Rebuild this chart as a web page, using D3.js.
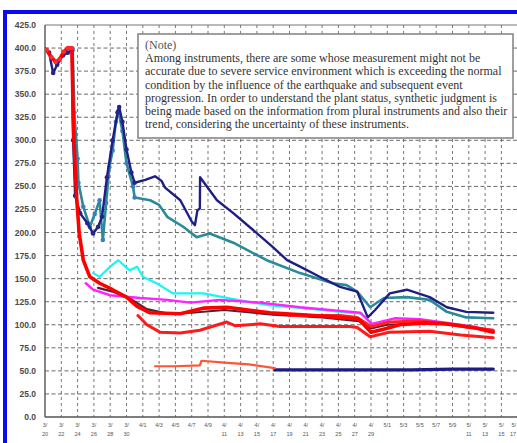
<!DOCTYPE html>
<html><head><meta charset="utf-8">
<script src="https://cdn.jsdelivr.net/npm/d3@7"></script>
<style>html,body{margin:0;padding:0;background:#fff;overflow:hidden}</style>
</head><body>
<svg id="c" width="517" height="443"></svg>
<script>
// ---- DATA (x = days since 3/20, y = value) ----
const tickLabels = ["3/20","3/22","3/24","3/26","3/28","3/30","4/1","4/3","4/5","4/7","4/9","4/11","4/13","4/15","4/17","4/19","4/21","4/23","4/25","4/27","4/29","5/1","5/3","5/5","5/7","5/9","5/11","5/13","5/15","5/17"];
const yTicks = [0,25,50,75,100,125,150,175,200,225,250,275,300,325,350,375,400,425];
const noteLines = [
  "(Note)",
  "Among instruments, there are some whose measurement might not be",
  "accurate due to severe service environment which is exceeding the normal",
  "condition by the influence of the earthquake and subsequent event",
  "progression. In order to understand the plant status, synthetic judgment is",
  "being made based on the information from plural instruments and also their",
  "trend, considering the uncertainty of these instruments."
];
const redA = [[0.2,398],[0.8,390],[1.3,385],[1.8,388],[2.3,396],[2.8,400],[3.3,400],[3.45,330],[3.55,300],[3.9,235],[4.2,199],[4.7,170],[5.5,152],[6.7,145],[8.3,138],[10.0,130],[11.3,120],[12.9,113],[16.6,112],[19.4,118],[22.3,119],[27.6,113],[33,110],[37.4,107],[38.5,106],[40.0,92],[41.9,96],[43.5,100],[46.4,102],[49.2,101],[52.6,97],[55.0,92]];
const redMid = [[30,110],[36.2,110],[38.3,108],[40.0,98],[42.3,103],[46,104],[49.2,101],[52,97],[55.0,94]];
const redB = [[11.4,110],[12.5,100],[14.1,92],[16.6,91],[19.0,94],[22.3,103],[23.3,99],[26.4,101],[28.8,98],[37.4,98],[38.3,97],[39.9,87],[42.3,92],[47.2,93],[51,89],[55.0,86]];
const maroon = [[6.5,140],[8.3,136],[10.5,128],[12.5,117],[15,112],[18,113],[22,116],[28,111],[34,108],[38.5,104],[40,96],[42,100],[46,101]];
const magenta = [[5.0,145],[5.9,138],[8.0,132],[11.7,129],[15.0,127],[17.8,124],[21.5,127],[26.4,124],[31.3,119],[36.2,115],[38.7,113],[40.1,101],[42.9,107],[46,106],[50.9,100],[55.0,94]];
const cyan = [[5.9,156],[6.7,152],[8.0,163],[9.0,170],[9.6,165],[10.4,159],[11.3,163],[12.0,152],[13.7,145],[15.7,134],[19.4,134],[23.6,127],[27.6,121],[31.7,118],[36.2,114],[38.9,112]];
const navyUpper = [[0.0,398],[0.5,395],[1.0,373],[1.5,382],[2.2,392],[2.8,395],[3.3,398],[3.45,300],[3.7,240],[4.3,221],[5.2,210],[5.9,199],[6.5,206],[7.0,217],[7.6,260],[8.3,300],[8.9,330],[9.1,336],[9.5,320],[10.0,290],[10.6,265],[11.0,254],[12.3,257],[13.5,261],[14.3,256],[14.7,249],[16.6,235],[18.0,212],[18.4,208],[18.7,224],[19.0,226],[19.03,260],[21.1,235],[23.1,221],[25.5,203],[28.0,184],[29.7,170],[31.3,163],[33.7,152],[36.2,141],[38.3,136],[39.6,108],[40.5,116],[42.3,134],[44.4,138],[47.2,130],[49.3,119],[51.7,114],[55.0,113]];
const teal = [[3.4,398],[3.6,330],[4.0,280],[4.1,254],[4.7,228],[5.5,206],[6.1,220],[6.7,235],[7.1,192],[7.5,232],[7.9,271],[8.3,289],[8.7,320],[9.0,332],[9.5,310],[10.0,275],[10.8,250],[11.0,238],[12.9,235],[14.0,230],[15.0,217],[17.0,206],[18.6,195],[20.2,199],[23.1,189],[27.2,170],[31.3,156],[35.3,145],[37.0,143],[38.3,136],[39.9,119],[41.6,129],[44.4,130],[47.2,127],[49.3,114],[51.7,108],[55.0,107]];
const orange = [[13.5,55],[16,55],[19.0,56],[19.2,61],[22,59],[25,57],[28.2,53]];
const navyLower = [[28.2,51],[35,51],[45,51],[50,52],[55,52]];

// ---- STYLE CONFIG ----
const series = [
  {data: navyLower, color: "#1c1c84", w: 3.2},
  {data: orange, color: "#ff5533", w: 2.2},
  {data: teal, color: "#2a8a98", w: 2.6, mark: 11.0, markColor: "#3a7fbf"},
  {data: navyUpper, color: "#1e1e86", w: 2.4, mark: 11.0, markColor: "#24248f"},
  {data: cyan, color: "#19f5f5", w: 2.2},
  {data: magenta, color: "#ff22ff", w: 2.4},
  {data: maroon, color: "#5a1e35", w: 2.2},
  {data: redB, color: "#ff1a1a", w: 3.0},
  {data: redMid, color: "#ff2020", w: 3.0},
  {data: redA, color: "#ff0000", w: 3.6, mark: 3.4, markColor: "#ff2a2a"}
];

const svg = d3.select("#c");
// blue frame
svg.append("rect").attr("x",5).attr("y",12).attr("width",700).attr("height",700)
  .attr("fill","#fff").attr("stroke","#0a0af0").attr("stroke-width",4);

const x = d3.scaleLinear().domain([0, 59]).range([45, 45 + 59*8.15]);
const y = d3.scaleLinear().domain([0, 425]).range([417, 25]);

const g = svg.append("g");
// grid
g.selectAll(".hg").data(yTicks.filter(v => v > 0 && v < 425)).enter().append("line")
  .attr("x1", x(0)).attr("x2", 530).attr("y1", d => y(d)).attr("y2", d => y(d))
  .attr("stroke", "#444").attr("stroke-width", 0.8).attr("stroke-dasharray", "4,2.5");
g.selectAll(".vg").data(tickLabels.map((t,i) => i*2).filter(d => d > 0)).enter().append("line")
  .attr("x1", d => x(d)).attr("x2", d => x(d)).attr("y1", y(425)).attr("y2", y(0))
  .attr("stroke", "#555").attr("stroke-width", 0.8).attr("stroke-dasharray", "3,3");
// frame lines
g.append("line").attr("x1", x(0)).attr("x2", 530).attr("y1", y(425)).attr("y2", y(425)).attr("stroke","#777").attr("stroke-width",1.2);
g.append("line").attr("x1", x(0)).attr("x2", 530).attr("y1", y(0)).attr("y2", y(0)).attr("stroke","#555").attr("stroke-width",1.4);
g.append("line").attr("x1", x(0)).attr("x2", x(0)).attr("y1", y(425)).attr("y2", y(0)).attr("stroke","#555").attr("stroke-width",1.4);

// y labels
g.selectAll(".yl").data(yTicks).enter().append("text")
  .attr("x", 36).attr("y", d => y(d) + 3).attr("text-anchor","end")
  .attr("font-family","Liberation Sans, Arial, sans-serif").attr("font-size", 8.5)
  .attr("font-weight","bold").attr("fill","#4a4a4a")
  .text(d => d.toFixed(1));

// x labels
const single = new Set(["4/1","4/3","4/5","4/7","4/9","5/1","5/3","5/5","5/7","5/9"]);
tickLabels.forEach((t, i) => {
  let px = x(i*2);
  let anchor = "middle";
  if (px > 512) { px = 516; anchor = "end"; }
  const tx = g.append("text").attr("text-anchor", anchor)
    .attr("font-family","Liberation Sans, Arial, sans-serif").attr("font-size", 5.5).attr("fill","#555");
  if (single.has(t)) {
    tx.attr("x", px).attr("y", 427).text(t);
  } else {
    const parts = t.split("/");
    tx.append("tspan").attr("x", px).attr("y", 427).text(parts[0] + "/");
    tx.append("tspan").attr("x", px).attr("y", 436).text(parts[1]);
  }
});

// series
const line = d3.line().x(d => x(d[0])).y(d => y(d[1]));
svg.append("defs").append("clipPath").attr("id","pc").append("rect")
  .attr("x", x(0)).attr("y", y(425)-4).attr("width", 520).attr("height", y(0)-y(425)+4);
const sg = svg.append("g").attr("clip-path","url(#pc)");
series.forEach(s => {
  sg.append("path").attr("d", line(s.data)).attr("fill","none")
    .attr("stroke", s.color).attr("stroke-width", s.w)
    .attr("stroke-linejoin","round").attr("stroke-linecap","round");
  if (s.mark) {
    sg.selectAll(null).data(s.data.filter(d => d[0] <= s.mark)).enter().append("circle")
      .attr("cx", d => x(d[0])).attr("cy", d => y(d[1])).attr("r", 2.3)
      .attr("fill", s.markColor).attr("stroke","none");
  }
});

// note box
const nb = svg.append("g");
nb.append("rect").attr("x",138).attr("y",34).attr("width",375).attr("height",104)
  .attr("fill","#fff").attr("stroke","#888").attr("stroke-width",1.6);
nb.selectAll("text").data(noteLines).enter().append("text")
  .attr("x", 145).attr("y", (d,i) => 49 + i*13.2)
  .attr("font-family","Liberation Serif, Times New Roman, serif").attr("font-size", 12)
  .attr("fill", (d,i) => i === 0 ? "#555" : "#333")
  .text(d => d);
</script>
</body></html>
